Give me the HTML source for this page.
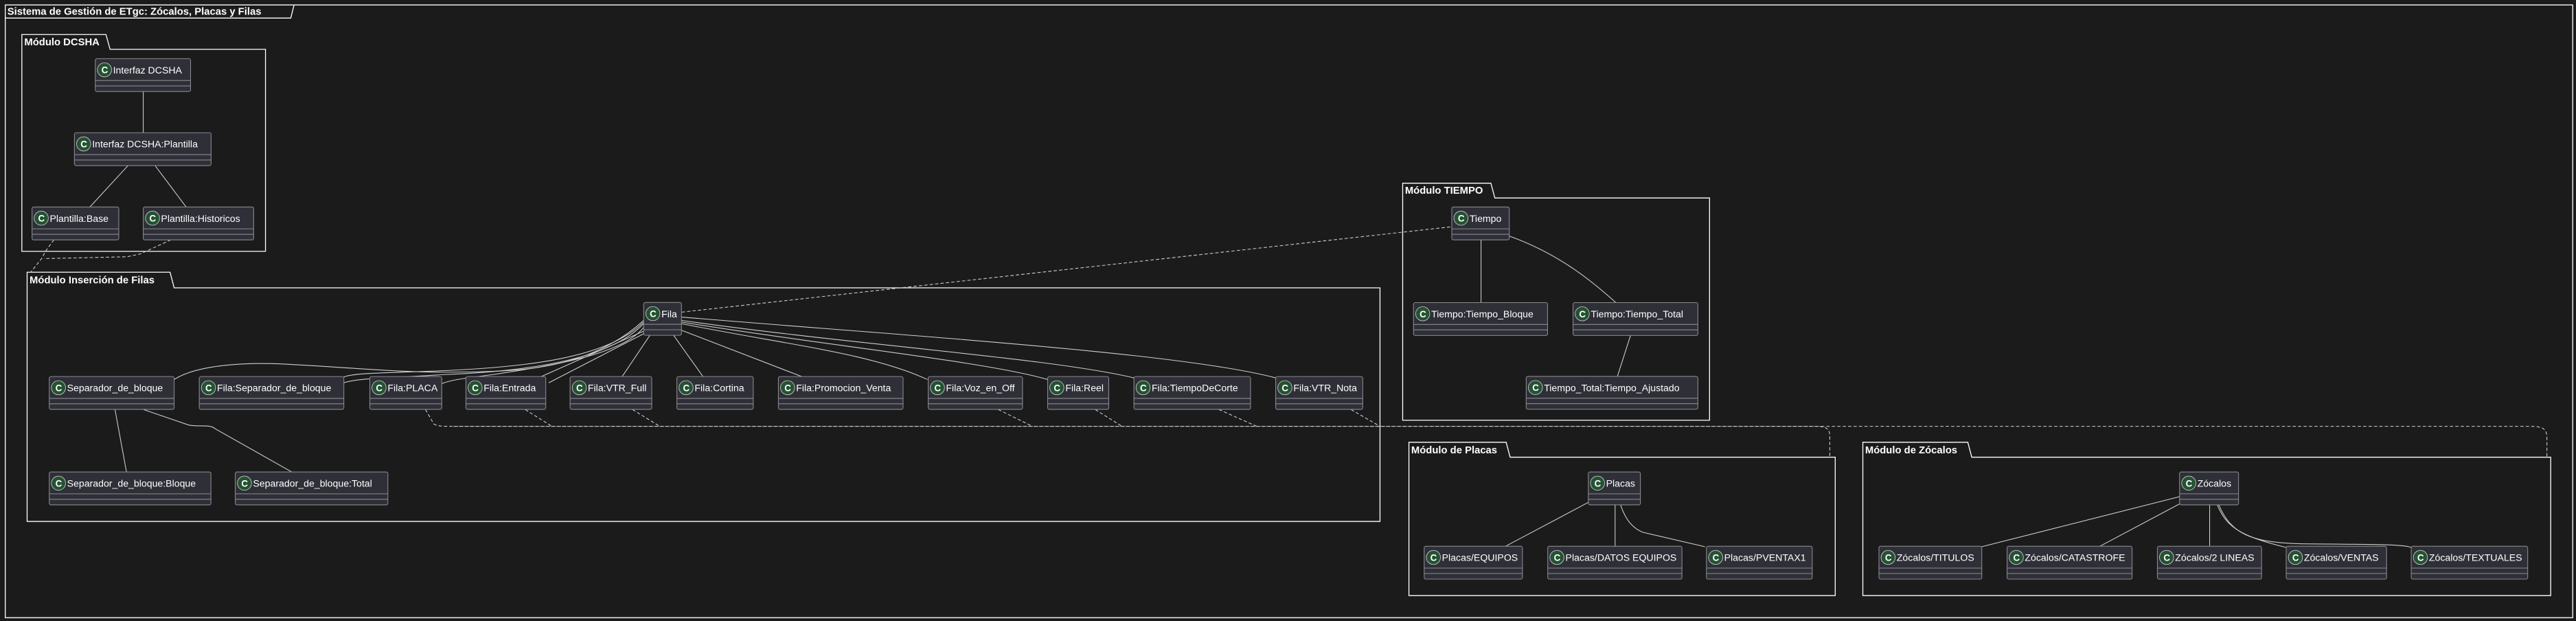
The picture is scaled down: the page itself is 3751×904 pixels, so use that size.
<!DOCTYPE html>
<html><head><meta charset="utf-8"><style>
html,body{margin:0;padding:0;background:#1b1b1b;}
svg{display:block}
text{font-family:"Liberation Sans","DejaVu Sans",sans-serif;fill:#fff;}
.t{font-size:5.9px}
.p{font-size:6.2px;font-weight:bold}
.b{fill:#2f2f38;stroke:#8a8a90;stroke-width:0.45}
.d{stroke:#8a8a90;stroke-width:0.45}
.c{fill:#245232;stroke:#d0d0d0;stroke-width:0.35}
.ct{font-size:5.6px;font-weight:bold}
.l{fill:none;stroke:#cfcfcf;stroke-width:0.45}
.ds{fill:none;stroke:#cfcfcf;stroke-width:0.45;stroke-dasharray:2,1.3}
.f{fill:none;stroke:#fff;stroke-width:0.55}
</style></head><body>
<svg width="3751" height="904" viewBox="0 0 1568 378" preserveAspectRatio="none" xmlns="http://www.w3.org/2000/svg">
<rect x="0" y="0" width="1568" height="378" fill="#1b1b1b"/>
<defs>
<g id="C"><circle cx="0" cy="0" r="4.3" class="c"/><text x="-1.9" y="2.1" class="ct">C</text></g>
</defs>
<!-- outer frame -->
<path class="f" d="M3.2,11 H177 L179,3 H3.2 V376 H1566 V3 H179"/>
<text x="4.5" y="9" class="p">Sistema de Gestión de ETgc: Zócalos, Placas y Filas</text>

<!-- packages -->
<path class="f" d="M13.3,30 V21 H64.5 L67,30 H161.6 V153 H13.3 Z"/>
<text x="14.8" y="27.5" class="p">Módulo DCSHA</text>
<path class="f" d="M16.5,175.2 V165.7 H103.5 L106,175.2 H840 V317.4 H16.5 Z"/>
<text x="18" y="172.5" class="p">Módulo Inserción de Filas</text>
<path class="f" d="M853.8,120.5 V111.5 H907.5 L909.9,120.5 H1040.6 V255.8 H853.8 Z"/>
<text x="855.2" y="118" class="p">Módulo TIEMPO</text>
<path class="f" d="M857.6,278.3 V269.2 H916.8 L919.2,278.3 H1117.1 V362.5 H857.6 Z"/>
<text x="859" y="276" class="p">Módulo de Placas</text>
<path class="f" d="M1133.9,278.3 V269.2 H1197.8 L1200.2,278.3 H1552.6 V362.5 H1133.9 Z"/>
<text x="1135.3" y="276" class="p">Módulo de Zócalos</text>

<!-- connectors -->
<g>
<path class="l" d="M87.2,55.7 V80.8"/>
<path class="l" d="M77.9,100.8 L54.7,126"/>
<path class="l" d="M94.4,100.8 L113.3,126"/>
<path class="ds" d="M32.8,146 L28,152.5 L25.3,157.4 L18.7,165.7"/>
<path class="ds" d="M104,146 L85.3,154.6 L77.3,156.3 L26.7,157.4"/>
<!-- Fila to Tiempo -->
<path class="ds" d="M415,190 L883.7,138"/>
<!-- Fila children -->
<path class="l" d="M391.8,195 C370,215 340,225 300,226 C250,228 220,224 180,222 C150,220 120,222 106,231"/>
<path class="l" d="M391.8,196 C370,218 320,224 260,226 C235,227 215,227 209.3,229.5"/>
<path class="l" d="M391.8,197 C372,218 325,226 270,228 C240,230 218,230 209.3,233"/>
<path class="l" d="M392,199 C380,215 340,222 300,228 C285,230 275,231 269,233.5"/>
<path class="l" d="M393,201 L329.5,229.2"/>
<path class="l" d="M394,202 L334,233"/>
<path class="l" d="M395.6,204.1 L378.7,229.2"/>
<path class="l" d="M410,204.1 L427.9,229.2"/>
<path class="l" d="M414.8,201 L488,229.2"/>
<path class="l" d="M414.8,197 C480,210 530,215 564.5,231"/>
<path class="l" d="M414.8,196 C500,210 600,220 637.7,231"/>
<path class="l" d="M414.8,195 C520,210 640,218 690.2,230"/>
<path class="l" d="M414.8,193 C560,205 720,215 776.5,230"/>
<path class="l" d="M70,249.3 L77,287.3"/>
<path class="l" d="M87.4,249.3 L114.8,258.7 C120,260 128,258 131,261 L177.6,287.3"/>
<!-- dashed to placas/zocalos -->
<path class="ds" d="M259,249.3 L264,258 C266,259.5 270,259.5 276,259.5 H1540 C1548,259.5 1550,261 1550.3,266 V278.3"/>
<path class="ds" d="M276,259.5 H1105 C1112,259.5 1113.8,261 1113.8,266 V278.3"/>
<path class="ds" d="M319.7,249.3 L336,259.5"/>
<path class="ds" d="M385,249.3 L401.6,259.5"/>
<path class="ds" d="M607.7,249.3 L628.4,259.5"/>
<path class="ds" d="M666.7,249.3 L683,259.5"/>
<path class="ds" d="M742,249.3 L765,259.5"/>
<path class="ds" d="M822.4,249.3 L840,259.5"/>
<!-- tiempo -->
<path class="l" d="M901.5,146 V184.2"/>
<path class="l" d="M918.7,143.7 C950,155 970,172 983.6,184.2"/>
<path class="l" d="M992.5,204.2 L984.5,229.1"/>
<!-- placas -->
<path class="l" d="M966.8,305.8 L916.4,332.5"/>
<path class="l" d="M983.1,307.2 V332.5"/>
<path class="l" d="M986.4,307.2 C990,318 995,322 1000,324 L1037.8,332.8"/>
<!-- zocalos -->
<path class="l" d="M1326.7,302.3 L1206.3,332.8"/>
<path class="l" d="M1326.7,306.7 L1278.2,332.5"/>
<path class="l" d="M1345,307.2 V332.5"/>
<path class="l" d="M1349.6,307.2 C1355,320 1362,326 1391.6,333.2"/>
<path class="l" d="M1350.5,307.2 C1358,325 1370,330 1400,331 C1440,331.5 1462,331 1467.7,333.2"/>
</g>

<!-- class boxes -->
<g id="boxes">
<!-- x, y, w, label -->
</g>
<g>
<!-- helper macro rendered manually -->
<g transform="translate(58,35.7)"><rect class="b" width="58" height="20" rx="1"/><line class="d" x1="0" y1="13.3" x2="58" y2="13.3"/><line class="d" x1="0" y1="16.6" x2="58" y2="16.6"/><use href="#C" x="5.6" y="6.8"/><text x="10.8" y="9" class="t">Interfaz DCSHA</text></g>
<g transform="translate(45.3,80.8)"><rect class="b" width="83.2" height="20" rx="1"/><line class="d" x1="0" y1="13.3" x2="83.2" y2="13.3"/><line class="d" x1="0" y1="16.6" x2="83.2" y2="16.6"/><use href="#C" x="5.6" y="6.8"/><text x="10.8" y="9" class="t">Interfaz DCSHA:Plantilla</text></g>
<g transform="translate(19.5,126)"><rect class="b" width="52.8" height="20" rx="1"/><line class="d" x1="0" y1="13.3" x2="52.8" y2="13.3"/><line class="d" x1="0" y1="16.6" x2="52.8" y2="16.6"/><use href="#C" x="5.6" y="6.8"/><text x="10.8" y="9" class="t">Plantilla:Base</text></g>
<g transform="translate(87.2,126)"><rect class="b" width="67.2" height="20" rx="1"/><line class="d" x1="0" y1="13.3" x2="67.2" y2="13.3"/><line class="d" x1="0" y1="16.6" x2="67.2" y2="16.6"/><use href="#C" x="5.6" y="6.8"/><text x="10.8" y="9" class="t">Plantilla:Historicos</text></g>

<g transform="translate(391.8,184.1)"><rect class="b" width="23" height="20" rx="1"/><line class="d" x1="0" y1="13.3" x2="23" y2="13.3"/><line class="d" x1="0" y1="16.6" x2="23" y2="16.6"/><use href="#C" x="5.6" y="6.8"/><text x="10.8" y="9" class="t">Fila</text></g>

<g transform="translate(30,229.2)"><rect class="b" width="76" height="20" rx="1"/><line class="d" x1="0" y1="13.3" x2="76" y2="13.3"/><line class="d" x1="0" y1="16.6" x2="76" y2="16.6"/><use href="#C" x="5.6" y="6.8"/><text x="10.8" y="9" class="t">Separador_de_bloque</text></g>
<g transform="translate(121.3,229.2)"><rect class="b" width="88" height="20" rx="1"/><line class="d" x1="0" y1="13.3" x2="88" y2="13.3"/><line class="d" x1="0" y1="16.6" x2="88" y2="16.6"/><use href="#C" x="5.6" y="6.8"/><text x="10.8" y="9" class="t">Fila:Separador_de_bloque</text></g>
<g transform="translate(225.1,229.2)"><rect class="b" width="43.8" height="20" rx="1"/><line class="d" x1="0" y1="13.3" x2="43.8" y2="13.3"/><line class="d" x1="0" y1="16.6" x2="43.8" y2="16.6"/><use href="#C" x="5.6" y="6.8"/><text x="10.8" y="9" class="t">Fila:PLACA</text></g>
<g transform="translate(283.6,229.2)"><rect class="b" width="48.6" height="20" rx="1"/><line class="d" x1="0" y1="13.3" x2="48.6" y2="13.3"/><line class="d" x1="0" y1="16.6" x2="48.6" y2="16.6"/><use href="#C" x="5.6" y="6.8"/><text x="10.8" y="9" class="t">Fila:Entrada</text></g>
<g transform="translate(347,229.2)"><rect class="b" width="49.7" height="20" rx="1"/><line class="d" x1="0" y1="13.3" x2="49.7" y2="13.3"/><line class="d" x1="0" y1="16.6" x2="49.7" y2="16.6"/><use href="#C" x="5.6" y="6.8"/><text x="10.8" y="9" class="t">Fila:VTR_Full</text></g>
<g transform="translate(412,229.2)"><rect class="b" width="46.5" height="20" rx="1"/><line class="d" x1="0" y1="13.3" x2="46.5" y2="13.3"/><line class="d" x1="0" y1="16.6" x2="46.5" y2="16.6"/><use href="#C" x="5.6" y="6.8"/><text x="10.8" y="9" class="t">Fila:Cortina</text></g>
<g transform="translate(473.8,229.2)"><rect class="b" width="75.9" height="20" rx="1"/><line class="d" x1="0" y1="13.3" x2="75.9" y2="13.3"/><line class="d" x1="0" y1="16.6" x2="75.9" y2="16.6"/><use href="#C" x="5.6" y="6.8"/><text x="10.8" y="9" class="t">Fila:Promocion_Venta</text></g>
<g transform="translate(565,229.2)"><rect class="b" width="57.4" height="20" rx="1"/><line class="d" x1="0" y1="13.3" x2="57.4" y2="13.3"/><line class="d" x1="0" y1="16.6" x2="57.4" y2="16.6"/><use href="#C" x="5.6" y="6.8"/><text x="10.8" y="9" class="t">Fila:Voz_en_Off</text></g>
<g transform="translate(637.7,229.2)"><rect class="b" width="37.2" height="20" rx="1"/><line class="d" x1="0" y1="13.3" x2="37.2" y2="13.3"/><line class="d" x1="0" y1="16.6" x2="37.2" y2="16.6"/><use href="#C" x="5.6" y="6.8"/><text x="10.8" y="9" class="t">Fila:Reel</text></g>
<g transform="translate(690.2,229.2)"><rect class="b" width="71" height="20" rx="1"/><line class="d" x1="0" y1="13.3" x2="71" y2="13.3"/><line class="d" x1="0" y1="16.6" x2="71" y2="16.6"/><use href="#C" x="5.6" y="6.8"/><text x="10.8" y="9" class="t">Fila:TiempoDeCorte</text></g>
<g transform="translate(776.5,229.2)"><rect class="b" width="53" height="20" rx="1"/><line class="d" x1="0" y1="13.3" x2="53" y2="13.3"/><line class="d" x1="0" y1="16.6" x2="53" y2="16.6"/><use href="#C" x="5.6" y="6.8"/><text x="10.8" y="9" class="t">Fila:VTR_Nota</text></g>

<g transform="translate(30,287.3)"><rect class="b" width="98.4" height="20" rx="1"/><line class="d" x1="0" y1="13.3" x2="98.4" y2="13.3"/><line class="d" x1="0" y1="16.6" x2="98.4" y2="16.6"/><use href="#C" x="5.6" y="6.8"/><text x="10.8" y="9" class="t">Separador_de_bloque:Bloque</text></g>
<g transform="translate(143.2,287.3)"><rect class="b" width="92.9" height="20" rx="1"/><line class="d" x1="0" y1="13.3" x2="92.9" y2="13.3"/><line class="d" x1="0" y1="16.6" x2="92.9" y2="16.6"/><use href="#C" x="5.6" y="6.8"/><text x="10.8" y="9" class="t">Separador_de_bloque:Total</text></g>

<g transform="translate(883.7,126)"><rect class="b" width="35" height="20" rx="1"/><line class="d" x1="0" y1="13.3" x2="35" y2="13.3"/><line class="d" x1="0" y1="16.6" x2="35" y2="16.6"/><use href="#C" x="5.6" y="6.8"/><text x="10.8" y="9" class="t">Tiempo</text></g>
<g transform="translate(860.4,184.2)"><rect class="b" width="81.6" height="20" rx="1"/><line class="d" x1="0" y1="13.3" x2="81.6" y2="13.3"/><line class="d" x1="0" y1="16.6" x2="81.6" y2="16.6"/><use href="#C" x="5.6" y="6.8"/><text x="10.8" y="9" class="t">Tiempo:Tiempo_Bloque</text></g>
<g transform="translate(957.5,184.2)"><rect class="b" width="76" height="20" rx="1"/><line class="d" x1="0" y1="13.3" x2="76" y2="13.3"/><line class="d" x1="0" y1="16.6" x2="76" y2="16.6"/><use href="#C" x="5.6" y="6.8"/><text x="10.8" y="9" class="t">Tiempo:Tiempo_Total</text></g>
<g transform="translate(929,229.1)"><rect class="b" width="104.5" height="20" rx="1"/><line class="d" x1="0" y1="13.3" x2="104.5" y2="13.3"/><line class="d" x1="0" y1="16.6" x2="104.5" y2="16.6"/><use href="#C" x="5.6" y="6.8"/><text x="10.8" y="9" class="t">Tiempo_Total:Tiempo_Ajustado</text></g>

<g transform="translate(966.8,287.3)"><rect class="b" width="31.7" height="20" rx="1"/><line class="d" x1="0" y1="13.3" x2="31.7" y2="13.3"/><line class="d" x1="0" y1="16.6" x2="31.7" y2="16.6"/><use href="#C" x="5.6" y="6.8"/><text x="10.8" y="9" class="t">Placas</text></g>
<g transform="translate(866.9,332.5)"><rect class="b" width="59.8" height="20" rx="1"/><line class="d" x1="0" y1="13.3" x2="59.8" y2="13.3"/><line class="d" x1="0" y1="16.6" x2="59.8" y2="16.6"/><use href="#C" x="5.6" y="6.8"/><text x="10.8" y="9" class="t">Placas/EQUIPOS</text></g>
<g transform="translate(942.1,332.5)"><rect class="b" width="81.7" height="20" rx="1"/><line class="d" x1="0" y1="13.3" x2="81.7" y2="13.3"/><line class="d" x1="0" y1="16.6" x2="81.7" y2="16.6"/><use href="#C" x="5.6" y="6.8"/><text x="10.8" y="9" class="t">Placas/DATOS EQUIPOS</text></g>
<g transform="translate(1038.7,332.5)"><rect class="b" width="64.4" height="20" rx="1"/><line class="d" x1="0" y1="13.3" x2="64.4" y2="13.3"/><line class="d" x1="0" y1="16.6" x2="64.4" y2="16.6"/><use href="#C" x="5.6" y="6.8"/><text x="10.8" y="9" class="t">Placas/PVENTAX1</text></g>

<g transform="translate(1326.7,287.3)"><rect class="b" width="35.9" height="20" rx="1"/><line class="d" x1="0" y1="13.3" x2="35.9" y2="13.3"/><line class="d" x1="0" y1="16.6" x2="35.9" y2="16.6"/><use href="#C" x="5.6" y="6.8"/><text x="10.8" y="9" class="t">Zócalos</text></g>
<g transform="translate(1143.7,332.5)"><rect class="b" width="62.6" height="20" rx="1"/><line class="d" x1="0" y1="13.3" x2="62.6" y2="13.3"/><line class="d" x1="0" y1="16.6" x2="62.6" y2="16.6"/><use href="#C" x="5.6" y="6.8"/><text x="10.8" y="9" class="t">Zócalos/TITULOS</text></g>
<g transform="translate(1221.7,332.5)"><rect class="b" width="76.1" height="20" rx="1"/><line class="d" x1="0" y1="13.3" x2="76.1" y2="13.3"/><line class="d" x1="0" y1="16.6" x2="76.1" y2="16.6"/><use href="#C" x="5.6" y="6.8"/><text x="10.8" y="9" class="t">Zócalos/CATASTROFE</text></g>
<g transform="translate(1313.2,332.5)"><rect class="b" width="63.4" height="20" rx="1"/><line class="d" x1="0" y1="13.3" x2="63.4" y2="13.3"/><line class="d" x1="0" y1="16.6" x2="63.4" y2="16.6"/><use href="#C" x="5.6" y="6.8"/><text x="10.8" y="9" class="t">Zócalos/2 LINEAS</text></g>
<g transform="translate(1391.6,332.5)"><rect class="b" width="61.1" height="20" rx="1"/><line class="d" x1="0" y1="13.3" x2="61.1" y2="13.3"/><line class="d" x1="0" y1="16.6" x2="61.1" y2="16.6"/><use href="#C" x="5.6" y="6.8"/><text x="10.8" y="9" class="t">Zócalos/VENTAS</text></g>
<g transform="translate(1467.7,332.5)"><rect class="b" width="70.9" height="20" rx="1"/><line class="d" x1="0" y1="13.3" x2="70.9" y2="13.3"/><line class="d" x1="0" y1="16.6" x2="70.9" y2="16.6"/><use href="#C" x="5.6" y="6.8"/><text x="10.8" y="9" class="t">Zócalos/TEXTUALES</text></g>
</g>
</svg>
</body></html>
